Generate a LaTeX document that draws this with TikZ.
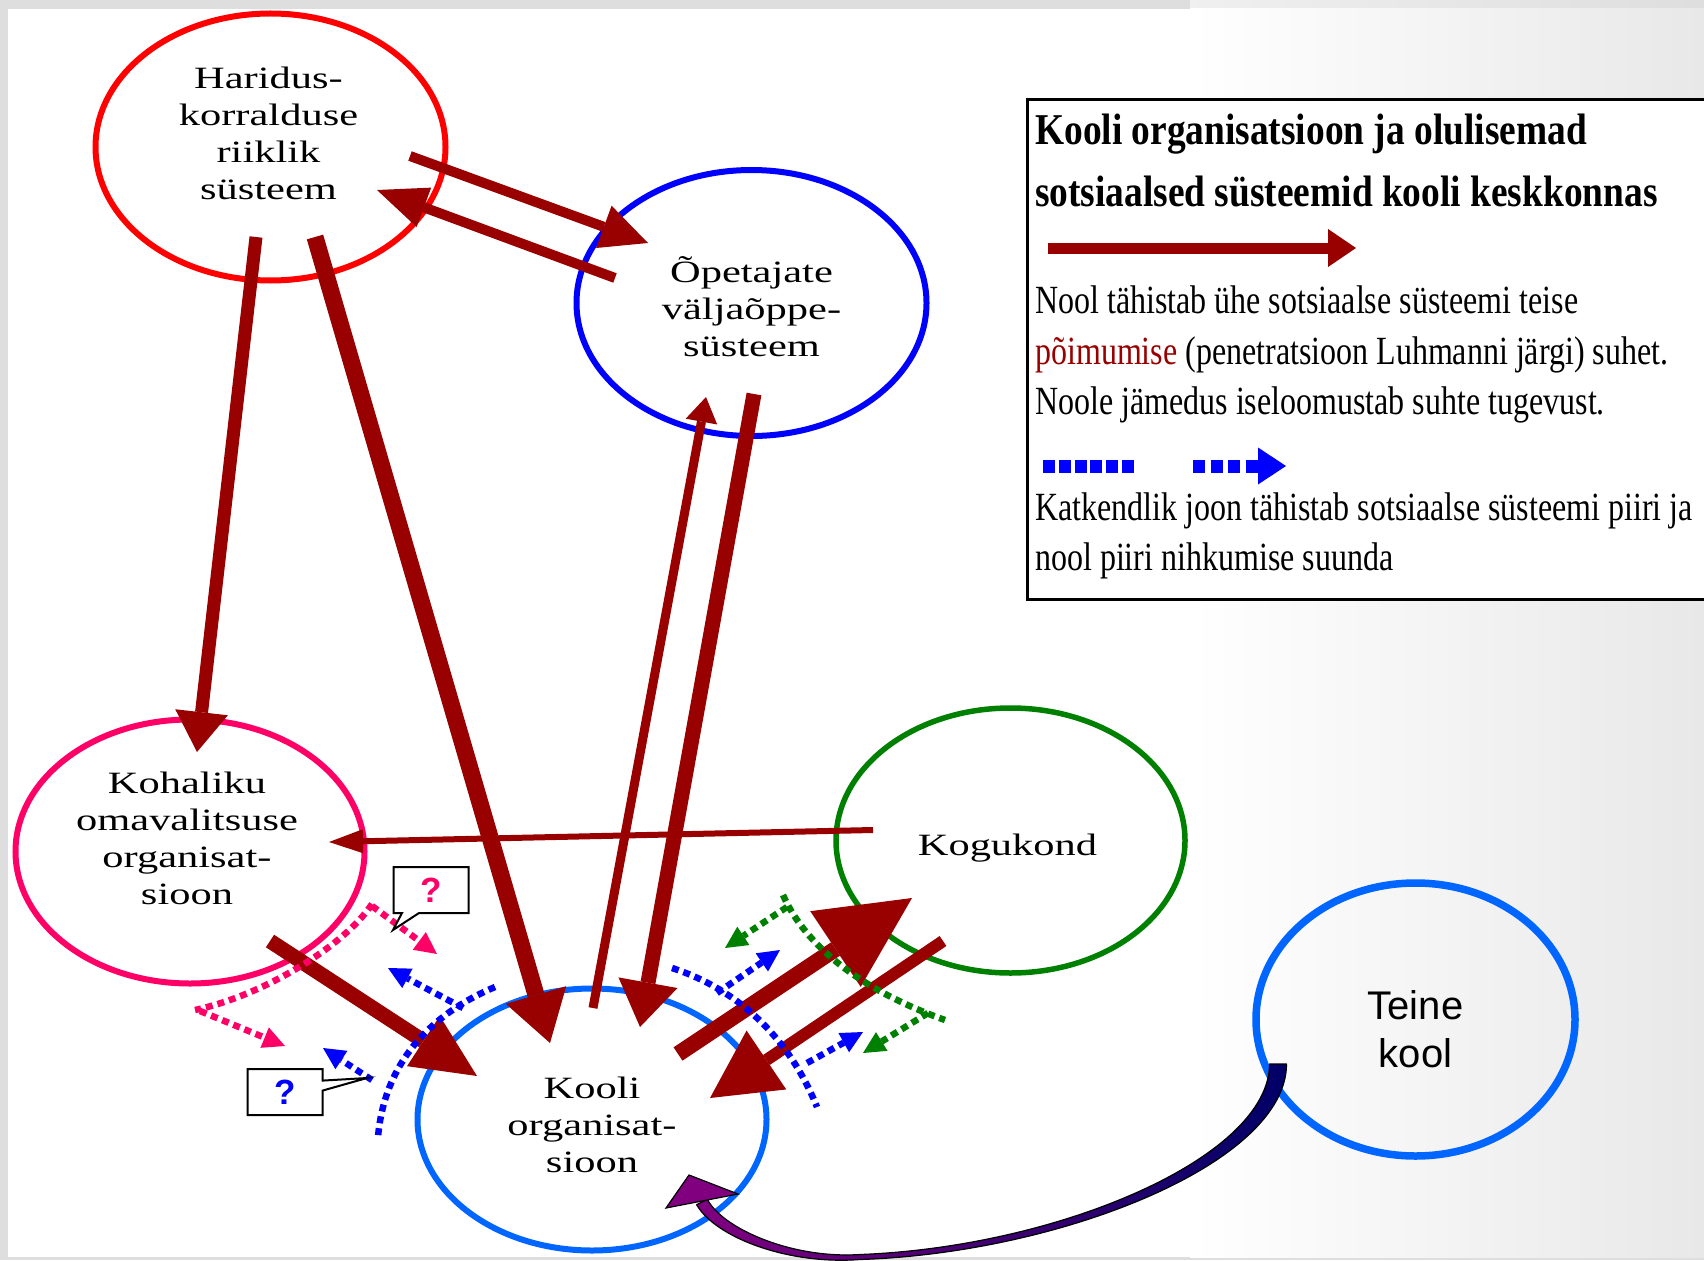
\documentclass[tikz,border=0pt]{standalone}
\usepackage{fontspec}
\setmainfont{Liberation Serif}
\setsansfont{Liberation Sans}
\newfontfamily\ellfont{Liberation Serif}[FakeStretch=1.37]
\newfontfamily\legfont{Liberation Serif}[FakeStretch=0.8]
\newfontfamily\legtitlefont{Liberation Serif}[FakeStretch=0.85]
\usetikzlibrary{arrows.meta,shapes.geometric,shapes.callouts}
\definecolor{arrowred}{HTML}{990000}
\definecolor{hared}{HTML}{FF0000}
\definecolor{opblue}{HTML}{0000FF}
\definecolor{kopink}{HTML}{FF0066}
\definecolor{kogreen}{HTML}{008000}
\definecolor{koblue}{HTML}{0066FF}
\definecolor{dotblue}{HTML}{0000FF}
\definecolor{navyend}{HTML}{000066}
\definecolor{headpurple}{HTML}{800080}
\begin{document}
\begin{tikzpicture}[x=1pt,y=-1pt,
  ell/.style={draw, ellipse, inner sep=0pt, line width=6pt},
  elltext/.style={align=center, inner sep=0pt, font=\ellfont\fontsize{31}{37}\selectfont},
  redarrow/.style={draw=arrowred, line cap=butt},
  dotline/.style={line width=6.5pt, dash pattern=on 7pt off 5pt},
  dottip/.style={-{Triangle[length=22pt,width=22pt,line width=0pt]}},
  legtitle/.style={anchor=base west, inner sep=0pt, font=\legtitlefont\bfseries\fontsize{44}{61}\selectfont},
  legtext/.style={anchor=base west, inner sep=0pt, font=\legfont\fontsize{40}{50}\selectfont},
  qbox/.style={rectangle callout, draw=black, fill=white, line width=2pt, minimum width=75pt, minimum height=46pt, inner sep=0pt, font=\sffamily\bfseries\fontsize{35}{35}\selectfont},
]
\useasboundingbox (0,0) rectangle (1704,1260);
% background
\fill[black!13] (0,0) rectangle (1704,1260);
\shade[left color=black!6, right color=black!13] (1190,0) rectangle (1704,9);
\shade[left color=white, right color=black!9] (1190,9) rectangle (1704,1257);
\fill[white] (8,9) rectangle (1190,1257);

% ellipses
\node[ell, draw=hared, minimum width=350pt, minimum height=267pt] (har) at (270.5,147) {};
\node[ell, draw=opblue, minimum width=350pt, minimum height=266pt] (ope) at (751.5,303) {};
\node[ell, draw=kopink, minimum width=349pt, minimum height=264pt] (koh) at (190,851.5) {};
\node[ell, draw=kogreen, line width=5.5pt, minimum width=349pt, minimum height=265pt] (kog) at (1010.5,840.5) {};
\node[ell, draw=koblue, minimum width=349pt, minimum height=262pt] (koo) at (592,1119.5) {};
\node[ell, draw=koblue, line width=7.5pt, minimum width=319pt, minimum height=273pt] (tei) at (1415.5,1019.5) {};

% ellipse texts
\node[elltext] (tHar) at ([xshift=-2pt,yshift=14pt]har.center) {Haridus-\\korralduse\\riiklik\\süsteem};
\node[elltext] (tOpe) at ([yshift=-4pt]ope.center) {Õpetajate\\väljaõppe-\\süsteem};
\node[elltext] (tKoh) at ([xshift=-3pt,yshift=13pt]koh.center) {Kohaliku\\omavalitsuse\\organisat-\\sioon};
\node[elltext] (tKog) at ([xshift=-3pt,yshift=-8pt]kog.center) {Kogukond};
\node[elltext] (tKoo) at ([yshift=-5pt]koo.center) {Kooli\\organisat-\\sioon};
\node[align=center, inner sep=0pt, font=\sffamily\fontsize{40}{48}\selectfont] (tTei) at ([yshift=-10pt]tei.center) {Teine\\kool};

% arrow end points
\coordinate (a1s) at (256,237);  \coordinate (a1e) at (197,752);
\coordinate (a2s) at (315,237);  \coordinate (a2e) at (550,1043);
\coordinate (a3s) at (410,156);  \coordinate (a3e) at (648,243);
\coordinate (a4s) at (615,278);  \coordinate (a4e) at (377,190);
\coordinate (a5s) at (593,1008); \coordinate (a5e) at (706,397);
\coordinate (a6s) at (754,394);  \coordinate (a6e) at (640,1027);
\coordinate (a7s) at (873,830);  \coordinate (a7e) at (329,842);
\coordinate (a8s) at (270,941);  \coordinate (a8e) at (477,1076);
\coordinate (a9s) at (678,1054); \coordinate (a9e) at (912,898);
\coordinate (a10s) at (943,941); \coordinate (a10e) at (710,1098);

\draw[redarrow, line width=13pt, -{Triangle[length=40pt,width=53pt,line width=0pt]}] (a1s) -- (a1e);
\draw[redarrow, line width=17pt, -{Triangle[length=50pt,width=63pt,line width=0pt]}] (a2s) -- (a2e);
\draw[redarrow, line width=10pt, -{Triangle[length=47pt,width=45pt,line width=0pt]}] (a3s) -- (a3e);
\draw[redarrow, line width=10pt, -{Triangle[length=50pt,width=42pt,line width=0pt]}] (a4s) -- (a4e);
\draw[redarrow, line width=9pt, -{Triangle[length=25pt,width=32pt,line width=0pt]}] (a5s) -- (a5e);
\draw[redarrow, line width=15pt, -{Triangle[length=45pt,width=60pt,line width=0pt]}] (a6s) -- (a6e);
\draw[redarrow, line width=6pt, -{Triangle[length=34pt,width=24pt,line width=0pt]}] (a7s) -- (a7e);
\draw[redarrow, line width=15pt, -{Triangle[length=64pt,width=60pt,line width=0pt]}] (a8s) -- (a8e);
\draw[redarrow, line width=16pt, -{Triangle[length=92pt,width=91pt,line width=0pt]}] (a9s) -- (a9e);
\draw[redarrow, line width=12pt, -{Triangle[length=68pt,width=71pt,line width=0pt]}] (a10s) -- (a10e);

% boundary lines (pink)
\draw[dotline, kopink] (372,904) .. controls (345,945) and (265,995) .. (195,1010);
\draw[dotline, kopink, dottip] (372,906) -- (437,954);
\draw[dotline, kopink, dottip] (200,1011) -- (285,1046);
% blue left
\draw[dotline, dotblue] (495,987) .. controls (440,1010) and (385,1055) .. (378,1137);
\draw[dotline, dotblue, dottip] (463,1008) -- (388,968);
\draw[dotline, dotblue, dottip] (372,1080) -- (323,1048);
% green
\draw[dotline, kogreen] (783,895) .. controls (805,945) and (860,990) .. (945,1020);
\draw[dotline, kogreen, dottip] (787,907) -- (725,948);
\draw[dotline, kogreen, dottip] (928,1013) -- (863,1053);
% blue right
\draw[dotline, dotblue] (672,968) .. controls (740,990) and (790,1040) .. (817,1107);
\draw[dotline, dotblue, dottip] (717,993) -- (780,950);
\draw[dotline, dotblue, dottip] (807,1063) -- (863,1032);

% callouts
\node[qbox, text=kopink, callout absolute pointer={(393,930)}, callout pointer width=17pt] (q1) at (431,890) {?};
\node[qbox, text=dotblue, callout absolute pointer={(367,1078)}, callout pointer width=10pt] (q2) at (285,1092) {?};

% curved arrow Teine kool -> Kooli
\coordinate (tkS) at (1278,1064);
\coordinate (tkT) at (689,1175);
\shadedraw[left color=headpurple, right color=navyend, draw=black, line width=1.2pt, line join=round]
  (1286.5,1064) .. controls (1286.5,1163) and (1061,1253) .. (860,1259.5)
  .. controls (789,1265) and (716,1238) .. (696.6,1204.7)
  -- (707.4,1199.3) .. controls (722,1228) and (791,1259) .. (860,1254.5)
  .. controls (1059,1247) and (1269.5,1157) .. (1269.5,1064) -- cycle;
\filldraw[fill=headpurple, draw=black, line width=1.2pt, line join=miter] (tkT) -- (666,1208) -- (738,1194) -- cycle;

% legend
\draw[line width=3pt, fill=white] (1027,100) rectangle (1712,599);
\node[legtitle] (lt1) at (1035,145) {Kooli organisatsioon ja olulisemad};
\node[legtitle] (lt2) at (1035,206) {sotsiaalsed süsteemid kooli keskkonnas};
\coordinate (lgs) at (1048,248); \coordinate (lge) at (1356,248);
\draw[redarrow, line width=11pt, -{Triangle[length=28pt,width=38pt,line width=0pt]}] (lgs) -- (lge);
\node[legtext] (lb1) at (1035,313) {Nool tähistab ühe sotsiaalse süsteemi teise};
\node[legtext] (lb2) at (1035,364) {\textcolor{arrowred}{põimumise} (penetratsioon Luhmanni järgi) suhet.};
\node[legtext] (lb3) at (1035,414) {Noole jämedus iseloomustab suhte tugevust.};
\coordinate (ld1) at (1043,466); \coordinate (ld2) at (1134,466);
\coordinate (ld3) at (1193,466); \coordinate (ld4) at (1286,466);
\draw[dotblue, line width=13pt, dash pattern=on 12pt off 3.8pt] (ld1) -- (ld2);
\draw[dotblue, line width=13pt, dash pattern=on 12pt off 5.6pt, -{Triangle[length=28pt,width=37pt,line width=0pt]}] (ld3) -- (ld4);
\node[legtext] (lb4) at (1035,520) {Katkendlik joon tähistab sotsiaalse süsteemi piiri ja};
\node[legtext] (lb5) at (1035,570) {nool piiri nihkumise suunda};
\end{tikzpicture}
\end{document}
